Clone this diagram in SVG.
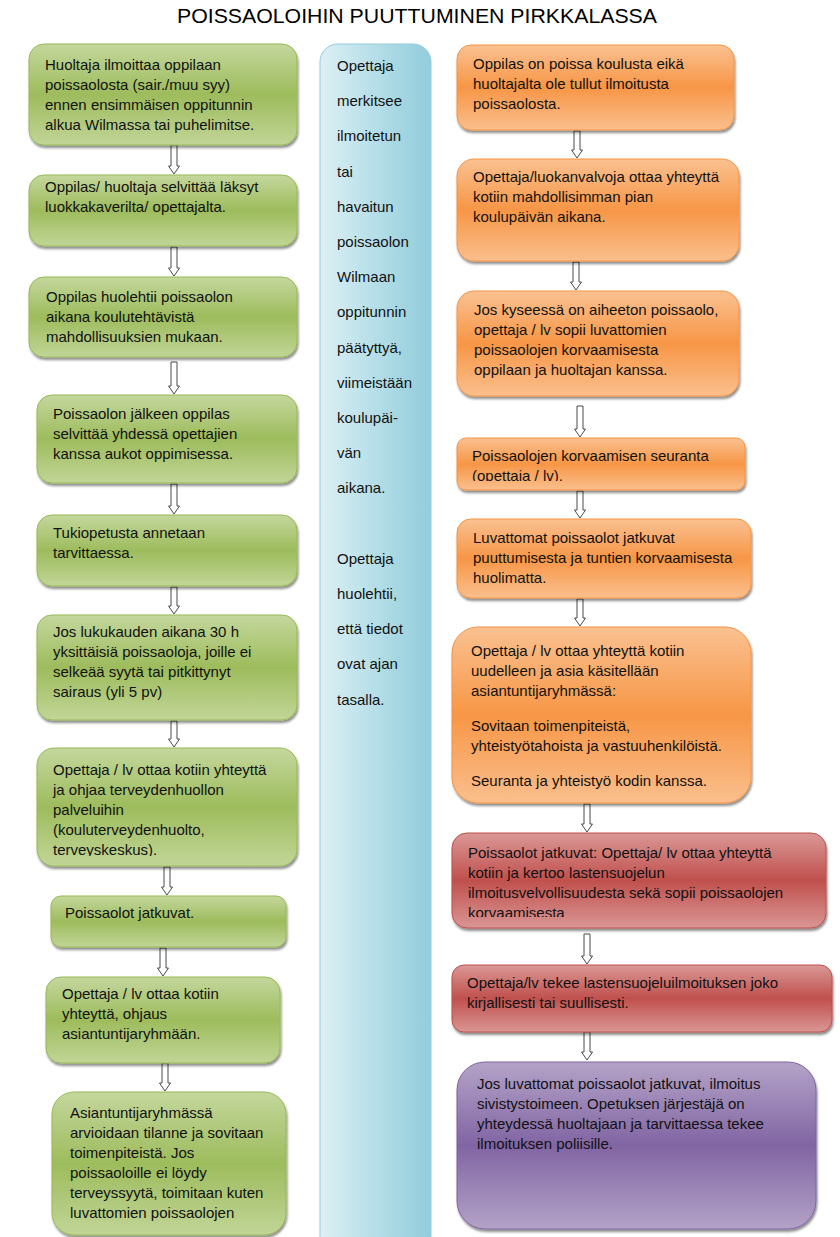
<svg xmlns="http://www.w3.org/2000/svg" width="840" height="1237" viewBox="0 0 840 1237">
<style>
.t{font-family:"Liberation Sans",Arial,sans-serif;font-size:15px;fill:#111}
.title{font-family:"Liberation Sans",Arial,sans-serif;font-size:21px;fill:#000}
.gb{fill:url(#gG);stroke:#98b954;stroke-width:1;filter:url(#sh)}
.ob{fill:url(#gO);stroke:#f39445;stroke-width:1;filter:url(#sh)}
.rb{fill:url(#gR);stroke:#be4f4c;stroke-width:1;filter:url(#sh)}
.pb{fill:url(#gP);stroke:#7e63a0;stroke-width:1;filter:url(#sh)}
.mb{fill:url(#gB);stroke:#93cddd;stroke-width:1}
.arr{fill:#fff;stroke:#4a4a4a;stroke-width:1}
</style>
<defs>
<linearGradient id="gG" x1="0" y1="0" x2="0" y2="1"><stop offset="0" stop-color="#c4d79d"/><stop offset="0.5" stop-color="#9dbc5c"/><stop offset="1" stop-color="#c1d597"/></linearGradient>
<linearGradient id="gO" x1="0" y1="0" x2="0" y2="1"><stop offset="0" stop-color="#fac191"/><stop offset="0.5" stop-color="#f79646"/><stop offset="1" stop-color="#fabf8d"/></linearGradient>
<linearGradient id="gR" x1="0" y1="0" x2="0" y2="1"><stop offset="0" stop-color="#da9896"/><stop offset="0.5" stop-color="#c0504d"/><stop offset="1" stop-color="#d99694"/></linearGradient>
<linearGradient id="gP" x1="0" y1="0" x2="0" y2="1"><stop offset="0" stop-color="#b4a3c8"/><stop offset="0.5" stop-color="#8165a3"/><stop offset="1" stop-color="#b3a2c7"/></linearGradient>
<linearGradient id="gB" x1="0" y1="0" x2="1" y2="0"><stop offset="0" stop-color="#dcf0f5"/><stop offset="0.75" stop-color="#a2d5e1"/><stop offset="1" stop-color="#93cddd"/></linearGradient>
<filter id="sh" x="-5%" y="-5%" width="110%" height="120%"><feDropShadow dx="1" dy="2.5" stdDeviation="0.8" flood-color="#000" flood-opacity="0.45"/></filter>
<clipPath id="c7"><rect x="30" y="740" width="270" height="116"/></clipPath>
<clipPath id="cr4"><rect x="450" y="430" width="300" height="51"/></clipPath>
<clipPath id="cr7"><rect x="450" y="830" width="380" height="87"/></clipPath>
</defs>

<text class="title" x="177" y="23" textLength="480" lengthAdjust="spacingAndGlyphs">POISSAOLOIHIN PUUTTUMINEN PIRKKALASSA</text>

<g id="connectors">
<path class="arr" d="M171,145 V166 H168.5 L174,174 L179.5,166 H177 V145 Z"/>
<path class="arr" d="M171,247 V268 H168.5 L174,276 L179.5,268 H177 V247 Z"/>
<path class="arr" d="M171,362 V386 H168.5 L174,394 L179.5,386 H177 V362 Z"/>
<path class="arr" d="M171,484 V506 H168.5 L174,514 L179.5,506 H177 V484 Z"/>
<path class="arr" d="M171,587 V606 H168.5 L174,614 L179.5,606 H177 V587 Z"/>
<path class="arr" d="M171,721 V739 H168.5 L174,747 L179.5,739 H177 V721 Z"/>
<path class="arr" d="M164,867 V887 H161.5 L167,895 L172.5,887 H170 V867 Z"/>
<path class="arr" d="M160,948 V968 H157.5 L163,976 L168.5,968 H166 V948 Z"/>
<path class="arr" d="M162,1063 V1083 H159.5 L165,1091 L170.5,1083 H168 V1063 Z"/>
<path class="arr" d="M574,131 V150 H571.5 L577,158 L582.5,150 H580 V131 Z"/>
<path class="arr" d="M573,262 V282 H570.5 L576,290 L581.5,282 H579 V262 Z"/>
<path class="arr" d="M577,406 V429 H574.5 L580,437 L585.5,429 H583 V406 Z"/>
<path class="arr" d="M577,491 V510 H574.5 L580,518 L585.5,510 H583 V491 Z"/>
<path class="arr" d="M577,599 V618 H574.5 L580,626 L585.5,618 H583 V599 Z"/>
<path class="arr" d="M584,804 V824 H581.5 L587,832 L592.5,824 H590 V804 Z"/>
<path class="arr" d="M584,934 V956 H581.5 L587,964 L592.5,956 H590 V934 Z"/>
<path class="arr" d="M584,1032 V1052 H581.5 L587,1060 L592.5,1052 H590 V1032 Z"/>
</g>

<g id="L1"><rect class="gb" x="29" y="44" width="268" height="101" rx="15"/>
<text class="t" x="45"><tspan x="45" y="70">Huoltaja ilmoittaa oppilaan</tspan><tspan x="45" y="90">poissaolosta (sair./muu syy)</tspan><tspan x="45" y="110">ennen ensimmäisen oppitunnin</tspan><tspan x="45" y="130">alkua Wilmassa tai puhelimitse.</tspan></text></g>

<g id="L2"><rect class="gb" x="29" y="175" width="268" height="71" rx="15"/>
<text class="t"><tspan x="45" y="192">Oppilas/ huoltaja selvittää läksyt</tspan><tspan x="45" y="212">luokkakaverilta/ opettajalta.</tspan></text></g>

<g id="L3"><rect class="gb" x="29" y="277" width="268" height="80" rx="15"/>
<text class="t"><tspan x="46" y="302">Oppilas huolehtii poissaolon</tspan><tspan x="46" y="322">aikana koulutehtävistä</tspan><tspan x="46" y="342">mahdollisuuksien mukaan.</tspan></text></g>

<g id="L4"><rect class="gb" x="37" y="395" width="260" height="88" rx="15"/>
<text class="t"><tspan x="53" y="419">Poissaolon jälkeen oppilas</tspan><tspan x="53" y="439">selvittää yhdessä opettajien</tspan><tspan x="53" y="459">kanssa aukot oppimisessa.</tspan></text></g>

<g id="L5"><rect class="gb" x="37" y="515" width="260" height="71" rx="15"/>
<text class="t"><tspan x="53" y="538">Tukiopetusta annetaan</tspan><tspan x="53" y="558">tarvittaessa.</tspan></text></g>

<g id="L6"><rect class="gb" x="37" y="615" width="260" height="105" rx="15"/>
<text class="t"><tspan x="53" y="637">Jos lukukauden aikana 30 h</tspan><tspan x="53" y="657">yksittäisiä poissaoloja, joille ei</tspan><tspan x="53" y="677">selkeää syytä tai pitkittynyt</tspan><tspan x="53" y="697">sairaus (yli 5 pv)</tspan></text></g>

<g id="L7"><rect class="gb" x="37" y="748" width="260" height="118" rx="17"/>
<text class="t" clip-path="url(#c7)"><tspan x="53" y="775">Opettaja / lv ottaa kotiin yhteyttä</tspan><tspan x="53" y="795">ja ohjaa terveydenhuollon</tspan><tspan x="53" y="815">palveluihin</tspan><tspan x="53" y="835">(kouluterveydenhuolto,</tspan><tspan x="53" y="855">terveyskeskus).</tspan></text></g>

<g id="L8"><rect class="gb" x="51" y="896" width="235" height="51" rx="10"/>
<text class="t"><tspan x="65" y="918">Poissaolot jatkuvat.</tspan></text></g>

<g id="L9"><rect class="gb" x="46" y="977" width="234" height="86" rx="15"/>
<text class="t"><tspan x="62" y="999">Opettaja / lv ottaa kotiin</tspan><tspan x="62" y="1019">yhteyttä, ohjaus</tspan><tspan x="62" y="1039">asiantuntijaryhmään.</tspan></text></g>

<g id="L10"><rect class="gb" x="52" y="1092" width="234" height="143" rx="22"/>
<text class="t"><tspan x="70" y="1118">Asiantuntijaryhmässä</tspan><tspan x="70" y="1138">arvioidaan tilanne ja sovitaan</tspan><tspan x="70" y="1158">toimenpiteistä. Jos</tspan><tspan x="70" y="1178">poissaoloille ei löydy</tspan><tspan x="70" y="1198">terveyssyytä, toimitaan kuten</tspan><tspan x="70" y="1218">luvattomien poissaolojen</tspan></text></g>

<g id="M"><rect class="mb" x="320" y="44" width="111" height="1220" rx="18"/>
<text class="t"><tspan x="337" y="71">Opettaja</tspan><tspan x="337" y="106.2">merkitsee</tspan><tspan x="337" y="141.4">ilmoitetun</tspan><tspan x="337" y="176.6">tai</tspan><tspan x="337" y="211.8">havaitun</tspan><tspan x="337" y="247">poissaolon</tspan><tspan x="337" y="282.2">Wilmaan</tspan><tspan x="337" y="317.4">oppitunnin</tspan><tspan x="337" y="352.6">päätyttyä,</tspan><tspan x="337" y="387.8">viimeistään</tspan><tspan x="337" y="423">koulupäi-</tspan><tspan x="337" y="458.2">vän</tspan><tspan x="337" y="493.4">aikana.</tspan><tspan x="337" y="563.8">Opettaja</tspan><tspan x="337" y="599">huolehtii,</tspan><tspan x="337" y="634.2">että tiedot</tspan><tspan x="337" y="669.4">ovat ajan</tspan><tspan x="337" y="704.6">tasalla.</tspan></text></g>

<g id="R1"><rect class="ob" x="457" y="45" width="277" height="85" rx="14"/>
<text class="t"><tspan x="473" y="69">Oppilas on poissa koulusta eikä</tspan><tspan x="473" y="89">huoltajalta ole tullut ilmoitusta</tspan><tspan x="473" y="109">poissaolosta.</tspan></text></g>

<g id="R2"><rect class="ob" x="457" y="159" width="282" height="102" rx="17"/>
<text class="t"><tspan x="473" y="182">Opettaja/luokanvalvoja ottaa yhteyttä</tspan><tspan x="473" y="202">kotiin mahdollisimman pian</tspan><tspan x="473" y="222">koulupäivän aikana.</tspan></text></g>

<g id="R3"><rect class="ob" x="457" y="291" width="282" height="105" rx="17"/>
<text class="t"><tspan x="474" y="315">Jos kyseessä on aiheeton poissaolo,</tspan><tspan x="474" y="335">opettaja / lv sopii luvattomien</tspan><tspan x="474" y="355">poissaolojen korvaamisesta</tspan><tspan x="474" y="375">oppilaan ja huoltajan kanssa.</tspan></text></g>

<g id="R4"><rect class="ob" x="457" y="438" width="288" height="52" rx="9"/>
<text class="t" clip-path="url(#cr4)"><tspan x="472" y="461">Poissaolojen korvaamisen seuranta</tspan><tspan x="472" y="481">(opettaja / lv).</tspan></text></g>

<g id="R5"><rect class="ob" x="457" y="519" width="294" height="79" rx="14"/>
<text class="t"><tspan x="473" y="543">Luvattomat poissaolot jatkuvat</tspan><tspan x="473" y="563">puuttumisesta ja tuntien korvaamisesta</tspan><tspan x="473" y="583">huolimatta.</tspan></text></g>

<g id="R6"><rect class="ob" x="452" y="627" width="299" height="176" rx="26"/>
<text class="t"><tspan x="471" y="656">Opettaja / lv ottaa yhteyttä kotiin</tspan><tspan x="471" y="676">uudelleen ja asia käsitellään</tspan><tspan x="471" y="696">asiantuntijaryhmässä:</tspan><tspan x="471" y="731">Sovitaan toimenpiteistä,</tspan><tspan x="471" y="751">yhteistyötahoista ja vastuuhenkilöistä.</tspan><tspan x="471" y="786">Seuranta ja yhteistyö kodin kanssa.</tspan></text></g>

<g id="R7"><rect class="rb" x="452" y="833" width="374" height="95" rx="15"/>
<text class="t" clip-path="url(#cr7)"><tspan x="468" y="858">Poissaolot jatkuvat: Opettaja/ lv ottaa yhteyttä</tspan><tspan x="468" y="878">kotiin ja kertoo lastensuojelun</tspan><tspan x="468" y="898">ilmoitusvelvollisuudesta sekä sopii poissaolojen</tspan><tspan x="468" y="918">korvaamisesta</tspan></text></g>

<g id="R8"><rect class="rb" x="452" y="965" width="380" height="67" rx="12"/>
<text class="t"><tspan x="467" y="988">Opettaja/lv tekee lastensuojeluilmoituksen joko</tspan><tspan x="467" y="1008">kirjallisesti tai suullisesti.</tspan></text></g>

<g id="R9"><rect class="pb" x="457" y="1062" width="359" height="167" rx="28"/>
<text class="t"><tspan x="477" y="1089">Jos luvattomat poissaolot jatkuvat, ilmoitus</tspan><tspan x="477" y="1109">sivistystoimeen. Opetuksen järjestäjä on</tspan><tspan x="477" y="1129">yhteydessä huoltajaan ja tarvittaessa tekee</tspan><tspan x="477" y="1149">ilmoituksen poliisille.</tspan></text></g>
</svg>
